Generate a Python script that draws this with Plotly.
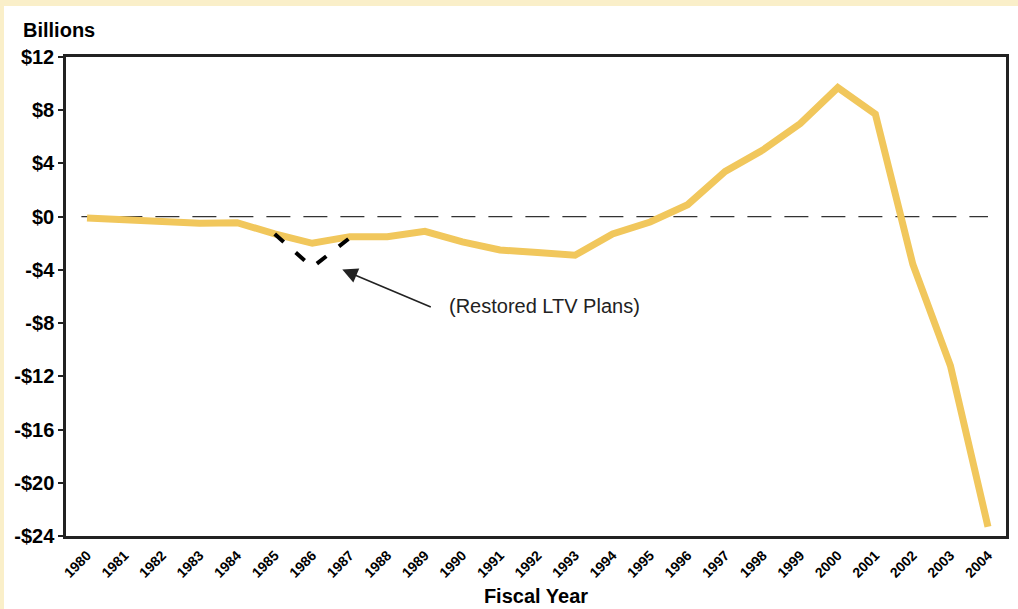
import plotly.graph_objects as go

years = list(range(1980, 2005))
net_position = [-0.1, -0.2, -0.35, -0.5, -0.45, -1.3, -2.0, -1.5, -1.5, -1.1,
                -1.9, -2.5, -2.7, -2.9, -1.3, -0.4, 0.9, 3.4, 5.0, 7.0,
                9.7, 7.7, -3.6, -11.2, -23.3]

ltv_years = [1985, 1986, 1987]
ltv_values = [-1.3, -3.8, -1.6]

y_ticks = [12, 8, 4, 0, -4, -8, -12, -16, -20, -24]
y_labels = ["$12", "$8", "$4", "$0", "-$4", "-$8", "-$12", "-$16", "-$20", "-$24"]

LINE_COLOR = "#F1C75C"
CREAM = "#FAEFC9"
FONT = "Liberation Sans, Arial, sans-serif"

fig = go.Figure()

fig.add_trace(go.Scatter(
    x=years, y=net_position, mode="lines",
    line=dict(color=LINE_COLOR, width=7),
    showlegend=False,
))

fig.add_trace(go.Scatter(
    x=ltv_years, y=ltv_values, mode="lines",
    line=dict(color="black", width=4, dash="12px,16px"),
    hoverinfo="skip", showlegend=False,
))

# zero reference line
fig.add_shape(type="line", xref="x", yref="y", x0=1979.85, x1=2004, y0=0, y1=0,
              line=dict(color="#333333", width=1.3, dash="24px,13px"), layer="below")

# cream frame strips (top and left)
fig.add_shape(type="rect", xref="paper", yref="paper",
              x0=-0.1, x1=1.1, y0=(536 - 6) / 479, y1=1.2,
              fillcolor=CREAM, line=dict(width=0), layer="above")
fig.add_shape(type="rect", xref="paper", yref="paper",
              x0=-0.1, x1=(4 - 66) / 940, y0=-0.3, y1=1.2,
              fillcolor=CREAM, line=dict(width=0), layer="above")

# arrow
fig.add_annotation(x=1986.8, y=-3.98, xref="x", yref="y",
                   ax=90, ay=38, axref="pixel", ayref="pixel",
                   text="", showarrow=True, arrowhead=2, arrowsize=1.9,
                   arrowwidth=1.6, arrowcolor="#222222")
fig.add_annotation(x=(447 - 66) / 940, y=(536 - 306) / 479, xref="paper", yref="paper",
                   text="(Restored LTV Plans)", showarrow=False,
                   xanchor="left", yanchor="middle",
                   font=dict(family=FONT, size=20, color="#222222"))

fig.add_annotation(x=(21 - 66) / 940, y=(536 - 30) / 479, xref="paper", yref="paper",
                   text="<b>Billions</b>", showarrow=False,
                   xanchor="left", yanchor="middle",
                   font=dict(family=FONT, size=20, color="black"))

fig.update_layout(
    width=1018, height=609,
    margin=dict(l=66, r=12, t=57, b=73),
    paper_bgcolor="white", plot_bgcolor="white",
    font=dict(family=FONT, color="black"),
    xaxis=dict(
        range=[1979.44, 2004.48], automargin=False,
        tickmode="array", tickvals=years, ticktext=[str(y) for y in years],
        tickangle=-45, tickfont=dict(family=FONT, size=14, weight="bold"),
        showgrid=False, zeroline=False,
        showline=True, linecolor="#222222", linewidth=2.5, mirror=True,
        ticks="", ticklabelstandoff=3,
        title=dict(text="<b>Fiscal Year</b>", font=dict(family=FONT, size=20), standoff=10),
    ),
    yaxis=dict(
        range=[-24, 12], automargin=False,
        tickmode="array", tickvals=y_ticks, ticktext=y_labels,
        tickfont=dict(family=FONT, size=20, weight="bold"),
        showgrid=False, zeroline=False,
        showline=True, linecolor="#222222", linewidth=2.5, mirror=True,
        ticks="outside", ticklen=5, tickwidth=1.5, tickcolor="#222222",
    ),
)

fig.write_html("out.html", config={"displayModeBar": False},
               post_script="document.body.style.margin='0';")
